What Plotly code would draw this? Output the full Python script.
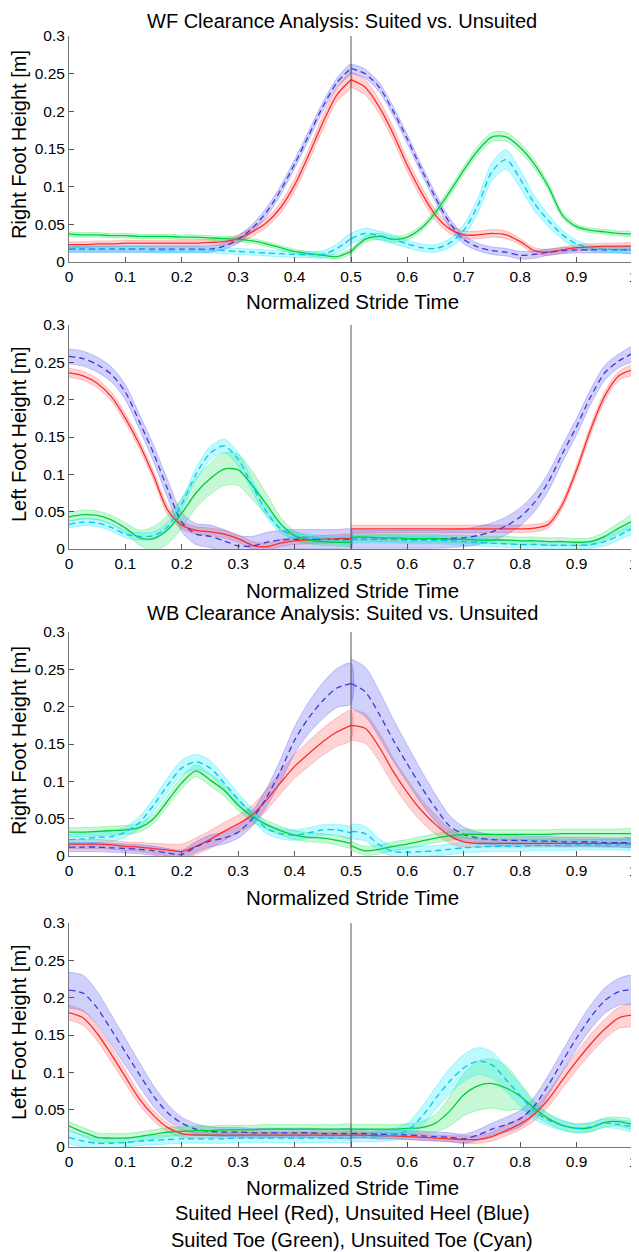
import plotly.graph_objects as go

# ---------------- data ----------------
x_left = [0.0, 0.025, 0.05, 0.075, 0.1, 0.125, 0.15, 0.175, 0.2, 0.225, 0.25,
          0.275, 0.3, 0.325, 0.35, 0.375, 0.4, 0.425, 0.45, 0.475, 0.5]
x_right = [0.5, 0.525, 0.55, 0.575, 0.6, 0.625, 0.65, 0.675, 0.7, 0.725, 0.75,
           0.775, 0.8, 0.825, 0.85, 0.875, 0.9, 0.925, 0.95, 0.975, 1.0]

x_ticks = [0, 0.1, 0.2, 0.3, 0.4, 0.5, 0.6, 0.7, 0.8, 0.9, 1]
x_ticktext = ["0", "0.1", "0.2", "0.3", "0.4", "0.5", "0.6", "0.7", "0.8", "0.9", "1"]
y_ticks = [0, 0.05, 0.1, 0.15, 0.2, 0.25, 0.3]
y_ticktext = ["0", "0.05", "0.1", "0.15", "0.2", "0.25", "0.3"]

# Each series: 21 values on x_left followed by 21 values on x_right
# Panel 1: WF right foot
wf_right_red = [0.023, 0.023, 0.024, 0.024, 0.025, 0.025, 0.025, 0.025, 0.025, 0.025, 0.026, 0.027, 0.031, 0.04, 0.052, 0.072, 0.102, 0.142, 0.185, 0.222, 0.242,
                0.242, 0.232, 0.206, 0.17, 0.128, 0.092, 0.062, 0.044, 0.036, 0.036, 0.038, 0.036, 0.027, 0.015, 0.013, 0.016, 0.019, 0.02, 0.021, 0.021, 0.021]
wf_right_red_hw = [0.004, 0.004, 0.004, 0.004, 0.004, 0.004, 0.004, 0.004, 0.004, 0.004, 0.004, 0.005, 0.005, 0.006, 0.006, 0.007, 0.008, 0.008, 0.009, 0.009, 0.01,
                   0.01, 0.01, 0.009, 0.009, 0.008, 0.008, 0.007, 0.006, 0.005, 0.005, 0.005, 0.005, 0.004, 0.004, 0.004, 0.004, 0.004, 0.004, 0.004, 0.004, 0.004]
wf_right_blue = [0.017, 0.017, 0.017, 0.017, 0.017, 0.017, 0.017, 0.017, 0.017, 0.017, 0.017, 0.021, 0.03, 0.045, 0.066, 0.095, 0.13, 0.168, 0.206, 0.238, 0.257,
                 0.257, 0.25, 0.232, 0.2, 0.163, 0.123, 0.085, 0.052, 0.03, 0.02, 0.015, 0.013, 0.009, 0.01, 0.013, 0.015, 0.016, 0.016, 0.016, 0.016, 0.016]
wf_right_blue_hw = [0.004, 0.004, 0.004, 0.004, 0.004, 0.004, 0.004, 0.004, 0.004, 0.004, 0.004, 0.004, 0.005, 0.005, 0.006, 0.006, 0.006, 0.006, 0.006, 0.006, 0.006,
                    0.006, 0.006, 0.006, 0.006, 0.006, 0.006, 0.006, 0.006, 0.006, 0.005, 0.005, 0.005, 0.005, 0.005, 0.004, 0.004, 0.004, 0.004, 0.004, 0.004, 0.004]
wf_right_green = [0.037, 0.036, 0.036, 0.035, 0.035, 0.034, 0.034, 0.034, 0.033, 0.033, 0.032, 0.031, 0.03, 0.028, 0.024, 0.019, 0.014, 0.011, 0.009, 0.007, 0.014,
                  0.014, 0.03, 0.034, 0.03, 0.033, 0.045, 0.066, 0.093, 0.122, 0.148, 0.166, 0.166, 0.152, 0.13, 0.1, 0.062, 0.047, 0.042, 0.04, 0.038, 0.037]
wf_right_green_hw = [0.003, 0.003, 0.003, 0.003, 0.003, 0.003, 0.003, 0.003, 0.003, 0.003, 0.003, 0.003, 0.003, 0.003, 0.003, 0.003, 0.003, 0.003, 0.003, 0.003, 0.003,
                     0.003, 0.004, 0.004, 0.004, 0.004, 0.004, 0.005, 0.005, 0.005, 0.006, 0.006, 0.006, 0.006, 0.006, 0.005, 0.004, 0.003, 0.003, 0.003, 0.003, 0.003]
wf_right_cyan = [0.017, 0.017, 0.017, 0.017, 0.017, 0.017, 0.016, 0.016, 0.016, 0.016, 0.016, 0.015, 0.014, 0.013, 0.012, 0.011, 0.01, 0.01, 0.01, 0.018, 0.031,
                 0.031, 0.038, 0.035, 0.03, 0.024, 0.019, 0.018, 0.025, 0.042, 0.075, 0.12, 0.136, 0.11, 0.078, 0.055, 0.036, 0.024, 0.019, 0.017, 0.016, 0.016]
wf_right_cyan_hw = [0.004, 0.004, 0.004, 0.004, 0.004, 0.004, 0.004, 0.004, 0.004, 0.004, 0.004, 0.004, 0.004, 0.004, 0.004, 0.004, 0.004, 0.004, 0.005, 0.006, 0.007,
                    0.007, 0.007, 0.006, 0.006, 0.005, 0.005, 0.005, 0.006, 0.008, 0.01, 0.012, 0.013, 0.012, 0.01, 0.008, 0.006, 0.005, 0.004, 0.004, 0.004, 0.004]

# Panel 2: WF left foot
wf_left_red = [0.236, 0.232, 0.222, 0.204, 0.175, 0.14, 0.098, 0.052, 0.032, 0.025, 0.023, 0.02, 0.014, 0.005, 0.003, 0.008, 0.011, 0.012, 0.013, 0.014, 0.014,
               0.027, 0.027, 0.027, 0.027, 0.027, 0.027, 0.027, 0.027, 0.027, 0.027, 0.027, 0.027, 0.027, 0.028, 0.033, 0.06, 0.106, 0.16, 0.205, 0.232, 0.24]
wf_left_red_hw = [0.006, 0.006, 0.006, 0.006, 0.006, 0.006, 0.006, 0.006, 0.005, 0.005, 0.005, 0.005, 0.005, 0.005, 0.005, 0.005, 0.005, 0.005, 0.005, 0.005, 0.005,
                  0.005, 0.005, 0.005, 0.005, 0.005, 0.005, 0.005, 0.005, 0.005, 0.005, 0.005, 0.005, 0.005, 0.005, 0.005, 0.005, 0.006, 0.006, 0.006, 0.006, 0.006]
wf_left_blue = [0.258, 0.255, 0.247, 0.234, 0.21, 0.17, 0.128, 0.08, 0.036, 0.02, 0.017, 0.011, 0.004, 0.004, 0.009, 0.012, 0.013, 0.013, 0.013, 0.013, 0.013,
                0.013, 0.013, 0.013, 0.013, 0.013, 0.013, 0.013, 0.014, 0.015, 0.018, 0.023, 0.031, 0.043, 0.062, 0.09, 0.128, 0.164, 0.204, 0.236, 0.252, 0.262]
wf_left_blue_hw = [0.01, 0.01, 0.01, 0.01, 0.01, 0.01, 0.011, 0.012, 0.013, 0.014, 0.015, 0.015, 0.014, 0.013, 0.013, 0.013, 0.013, 0.013, 0.013, 0.013, 0.013,
                   0.012, 0.012, 0.012, 0.012, 0.012, 0.012, 0.012, 0.012, 0.012, 0.012, 0.012, 0.012, 0.012, 0.012, 0.012, 0.011, 0.011, 0.01, 0.01, 0.009, 0.009]
wf_left_green = [0.043, 0.046, 0.045, 0.039, 0.028, 0.015, 0.014, 0.026, 0.048, 0.075, 0.094, 0.107, 0.106, 0.085, 0.06, 0.034, 0.018, 0.012, 0.01, 0.009, 0.009,
                 0.016, 0.016, 0.015, 0.015, 0.014, 0.014, 0.014, 0.013, 0.013, 0.012, 0.012, 0.012, 0.011, 0.011, 0.01, 0.01, 0.009, 0.01, 0.017, 0.028, 0.038]
wf_left_green_hw = [0.006, 0.006, 0.006, 0.006, 0.007, 0.01, 0.016, 0.019, 0.02, 0.02, 0.021, 0.022, 0.021, 0.019, 0.014, 0.009, 0.006, 0.005, 0.005, 0.005, 0.005,
                    0.005, 0.005, 0.005, 0.005, 0.005, 0.005, 0.005, 0.005, 0.005, 0.005, 0.005, 0.005, 0.005, 0.005, 0.005, 0.005, 0.005, 0.005, 0.006, 0.007, 0.008]
wf_left_cyan = [0.033, 0.036, 0.035, 0.029, 0.02, 0.017, 0.018, 0.03, 0.06, 0.1, 0.128, 0.138, 0.12, 0.085, 0.05, 0.027, 0.018, 0.015, 0.013, 0.012, 0.012,
                0.013, 0.013, 0.013, 0.013, 0.012, 0.012, 0.012, 0.011, 0.01, 0.009, 0.008, 0.007, 0.006, 0.006, 0.005, 0.005, 0.005, 0.006, 0.01, 0.018, 0.028]
wf_left_cyan_hw = [0.005, 0.005, 0.005, 0.005, 0.005, 0.005, 0.005, 0.006, 0.007, 0.008, 0.009, 0.009, 0.009, 0.008, 0.007, 0.006, 0.005, 0.005, 0.005, 0.005, 0.005,
                   0.005, 0.005, 0.005, 0.005, 0.005, 0.005, 0.005, 0.005, 0.005, 0.005, 0.005, 0.005, 0.005, 0.005, 0.005, 0.005, 0.005, 0.005, 0.006, 0.006, 0.006]

# Panel 3: WB right foot
wb_right_red = [0.016, 0.016, 0.016, 0.015, 0.013, 0.012, 0.01, 0.008, 0.006, 0.013, 0.022, 0.033, 0.043, 0.055, 0.075, 0.098, 0.12, 0.137, 0.153, 0.166, 0.175,
                0.175, 0.171, 0.146, 0.113, 0.085, 0.061, 0.042, 0.027, 0.019, 0.017, 0.017, 0.017, 0.017, 0.017, 0.017, 0.017, 0.017, 0.017, 0.017, 0.017, 0.017]
wb_right_red_hw = [0.006, 0.006, 0.006, 0.006, 0.006, 0.006, 0.007, 0.008, 0.01, 0.011, 0.012, 0.012, 0.012, 0.013, 0.014, 0.015, 0.016, 0.017, 0.018, 0.019, 0.02,
                   0.02, 0.02, 0.019, 0.018, 0.017, 0.015, 0.013, 0.01, 0.007, 0.005, 0.005, 0.005, 0.005, 0.005, 0.005, 0.005, 0.005, 0.005, 0.005, 0.005, 0.005]
wb_right_blue = [0.012, 0.012, 0.012, 0.011, 0.01, 0.009, 0.007, 0.004, 0.002, 0.012, 0.02, 0.024, 0.032, 0.05, 0.078, 0.114, 0.155, 0.185, 0.208, 0.225, 0.231,
                 0.231, 0.22, 0.19, 0.155, 0.123, 0.092, 0.064, 0.04, 0.029, 0.024, 0.022, 0.021, 0.021, 0.02, 0.02, 0.019, 0.019, 0.019, 0.018, 0.018, 0.018]
wb_right_blue_hw = [0.006, 0.006, 0.006, 0.006, 0.006, 0.006, 0.006, 0.006, 0.006, 0.007, 0.008, 0.008, 0.008, 0.01, 0.012, 0.015, 0.018, 0.021, 0.024, 0.026, 0.027,
                    0.033, 0.033, 0.031, 0.028, 0.025, 0.022, 0.018, 0.014, 0.01, 0.008, 0.007, 0.007, 0.006, 0.006, 0.006, 0.006, 0.006, 0.006, 0.006, 0.006, 0.006]
wb_right_green = [0.032, 0.032, 0.033, 0.034, 0.035, 0.038, 0.05, 0.074, 0.098, 0.114, 0.102, 0.088, 0.068, 0.053, 0.042, 0.034, 0.028, 0.025, 0.024, 0.021, 0.017,
                  0.014, 0.007, 0.009, 0.013, 0.016, 0.02, 0.024, 0.027, 0.029, 0.029, 0.029, 0.029, 0.029, 0.029, 0.029, 0.03, 0.03, 0.03, 0.03, 0.03, 0.03]
wb_right_green_hw = [0.006, 0.006, 0.006, 0.006, 0.006, 0.006, 0.006, 0.007, 0.008, 0.008, 0.008, 0.008, 0.007, 0.007, 0.006, 0.006, 0.006, 0.006, 0.006, 0.006, 0.006,
                     0.006, 0.006, 0.006, 0.006, 0.006, 0.006, 0.006, 0.006, 0.006, 0.006, 0.006, 0.006, 0.006, 0.006, 0.006, 0.006, 0.006, 0.006, 0.006, 0.006, 0.006]
wb_right_cyan = [0.022, 0.023, 0.025, 0.026, 0.032, 0.045, 0.068, 0.095, 0.118, 0.126, 0.118, 0.098, 0.076, 0.056, 0.037, 0.03, 0.028, 0.031, 0.035, 0.035, 0.031,
                 0.033, 0.03, 0.015, 0.006, 0.005, 0.006, 0.007, 0.009, 0.011, 0.012, 0.013, 0.013, 0.013, 0.014, 0.014, 0.014, 0.015, 0.015, 0.015, 0.015, 0.015]
wb_right_cyan_hw = [0.007, 0.007, 0.007, 0.007, 0.007, 0.008, 0.009, 0.01, 0.01, 0.01, 0.01, 0.009, 0.008, 0.008, 0.007, 0.007, 0.007, 0.007, 0.007, 0.007, 0.008,
                    0.01, 0.01, 0.008, 0.007, 0.007, 0.007, 0.007, 0.007, 0.007, 0.007, 0.007, 0.007, 0.007, 0.007, 0.007, 0.007, 0.007, 0.007, 0.007, 0.007, 0.007]

# Panel 4: WB left foot
wb_left_red = [0.18, 0.173, 0.152, 0.124, 0.094, 0.064, 0.042, 0.026, 0.018, 0.016, 0.016, 0.016, 0.016, 0.016, 0.016, 0.016, 0.016, 0.016, 0.016, 0.016, 0.016,
               0.016, 0.016, 0.015, 0.015, 0.014, 0.013, 0.012, 0.011, 0.01, 0.01, 0.014, 0.022, 0.031, 0.044, 0.064, 0.09, 0.115, 0.138, 0.158, 0.173, 0.177]
wb_left_red_hw = [0.01, 0.01, 0.01, 0.01, 0.009, 0.008, 0.007, 0.006, 0.005, 0.004, 0.004, 0.004, 0.004, 0.004, 0.004, 0.004, 0.004, 0.004, 0.004, 0.004, 0.004,
                  0.004, 0.004, 0.004, 0.004, 0.004, 0.004, 0.004, 0.004, 0.005, 0.005, 0.006, 0.007, 0.008, 0.009, 0.01, 0.011, 0.012, 0.013, 0.013, 0.014, 0.014]
wb_left_blue = [0.21, 0.206, 0.186, 0.157, 0.127, 0.097, 0.068, 0.046, 0.032, 0.024, 0.021, 0.02, 0.02, 0.019, 0.019, 0.019, 0.019, 0.019, 0.018, 0.018, 0.018,
                0.018, 0.018, 0.017, 0.017, 0.016, 0.015, 0.014, 0.013, 0.011, 0.016, 0.024, 0.03, 0.038, 0.055, 0.083, 0.115, 0.146, 0.174, 0.196, 0.208, 0.211]
wb_left_blue_hw = [0.024, 0.024, 0.022, 0.02, 0.018, 0.016, 0.014, 0.011, 0.008, 0.007, 0.006, 0.006, 0.006, 0.006, 0.006, 0.006, 0.006, 0.006, 0.006, 0.006, 0.006,
                   0.006, 0.006, 0.006, 0.006, 0.006, 0.006, 0.006, 0.006, 0.006, 0.007, 0.008, 0.01, 0.011, 0.012, 0.013, 0.014, 0.015, 0.016, 0.017, 0.018, 0.018]
wb_left_green = [0.028, 0.02, 0.013, 0.012, 0.012, 0.014, 0.017, 0.02, 0.021, 0.022, 0.022, 0.023, 0.023, 0.023, 0.024, 0.024, 0.024, 0.024, 0.024, 0.024, 0.024,
                 0.024, 0.024, 0.024, 0.024, 0.025, 0.026, 0.032, 0.048, 0.07, 0.082, 0.085, 0.079, 0.068, 0.052, 0.038, 0.029, 0.025, 0.026, 0.033, 0.034, 0.03]
wb_left_green_hw = [0.006, 0.006, 0.006, 0.006, 0.006, 0.006, 0.006, 0.006, 0.006, 0.006, 0.006, 0.006, 0.006, 0.006, 0.006, 0.006, 0.006, 0.006, 0.006, 0.006, 0.006,
                    0.006, 0.006, 0.006, 0.006, 0.006, 0.008, 0.012, 0.02, 0.028, 0.033, 0.033, 0.03, 0.018, 0.01, 0.007, 0.006, 0.006, 0.006, 0.006, 0.006, 0.006]
wb_left_cyan = [0.013, 0.008, 0.005, 0.005, 0.006, 0.008, 0.009, 0.01, 0.011, 0.011, 0.011, 0.011, 0.012, 0.012, 0.012, 0.012, 0.012, 0.012, 0.012, 0.012, 0.012,
                0.013, 0.013, 0.014, 0.017, 0.022, 0.04, 0.065, 0.088, 0.106, 0.115, 0.11, 0.09, 0.069, 0.048, 0.036, 0.029, 0.025, 0.027, 0.032, 0.03, 0.027]
wb_left_cyan_hw = [0.009, 0.008, 0.007, 0.006, 0.006, 0.006, 0.006, 0.006, 0.006, 0.006, 0.006, 0.006, 0.006, 0.006, 0.006, 0.006, 0.006, 0.006, 0.006, 0.006, 0.006,
                   0.006, 0.006, 0.007, 0.008, 0.01, 0.013, 0.015, 0.017, 0.018, 0.018, 0.018, 0.016, 0.014, 0.011, 0.008, 0.007, 0.006, 0.006, 0.006, 0.006, 0.006]

panel_titles = ["WF Clearance Analysis: Suited vs. Unsuited", None,
                "WB Clearance Analysis: Suited vs. Unsuited", None]
y_titles = ["Right Foot Height [m]", "Left Foot Height [m]",
            "Right Foot Height [m]", "Left Foot Height [m]"]
x_title = "Normalized Stride Time"
legend_lines = ["Suited Heel (Red), Unsuited Heel (Blue)",
                "Suited Toe (Green), Unsuited Toe (Cyan)"]

panels = [
    [(wf_right_red, wf_right_red_hw), (wf_right_blue, wf_right_blue_hw),
     (wf_right_green, wf_right_green_hw), (wf_right_cyan, wf_right_cyan_hw)],
    [(wf_left_red, wf_left_red_hw), (wf_left_blue, wf_left_blue_hw),
     (wf_left_green, wf_left_green_hw), (wf_left_cyan, wf_left_cyan_hw)],
    [(wb_right_red, wb_right_red_hw), (wb_right_blue, wb_right_blue_hw),
     (wb_right_green, wb_right_green_hw), (wb_right_cyan, wb_right_cyan_hw)],
    [(wb_left_red, wb_left_red_hw), (wb_left_blue, wb_left_blue_hw),
     (wb_left_green, wb_left_green_hw), (wb_left_cyan, wb_left_cyan_hw)],
]

# ---------------- styles ----------------
OFF = 8                      # page body margin offset of the plot div
W, H = 639 - OFF, 1252 - OFF
FONT = "Liberation Sans, Arial, Helvetica, sans-serif"
styles = [
    dict(line="#ff2b2b", dash="solid", fill="rgba(255,70,70,0.24)", edge="rgba(255,70,70,0.35)"),
    dict(line="#3a3ad8", dash="6px,4px", fill="rgba(80,80,235,0.27)", edge="rgba(80,80,235,0.38)"),
    dict(line="#00cc3a", dash="solid", fill="rgba(0,225,70,0.22)", edge="rgba(0,225,70,0.35)"),
    dict(line="#00c8ea", dash="6px,4px", fill="rgba(0,230,255,0.26)", edge="rgba(0,230,255,0.38)"),
]

# positions in reference-image pixels
x_px = (69, 633)
panel_px = [(36, 262), (325, 549), (632, 856), (923, 1147)]
xtitle_px = [302, 590, 897, 1187]
title_px = [21, None, 613, None]
ytitle_cy = [145, 434, 741, 1032]
legend_px = [1213, 1240]


def px_x(p):
    return (p - OFF) / W


def px_y(p):
    return 1 - (p - OFF) / H


fig = go.Figure()
layout = dict(
    width=W, height=H, margin=dict(l=0, r=0, t=0, b=0, autoexpand=False),
    paper_bgcolor="white", plot_bgcolor="white", showlegend=False,
    font=dict(family=FONT, color="black", size=15),
)
annotations = []
shapes = []
xmid = px_x(352)

for i, series in enumerate(panels):
    n = i + 1
    xa = "x" if n == 1 else f"x{n}"
    ya = "y" if n == 1 else f"y{n}"
    top, bot = panel_px[i]
    layout[f"xaxis{'' if n == 1 else n}"] = dict(
        domain=[px_x(x_px[0]), px_x(x_px[1])], anchor=ya, range=[0, 1],
        tickvals=x_ticks, ticktext=x_ticktext, ticks="inside", ticklen=5,
        tickcolor="#555", showline=True, linecolor="#777", linewidth=1,
        showgrid=False, zeroline=False, tickfont=dict(size=15.5),
        ticklabeloverflow="allow",
    )
    layout[f"yaxis{'' if n == 1 else n}"] = dict(
        domain=[px_y(bot), px_y(top)], anchor=xa, range=[0, 0.3],
        tickvals=y_ticks, ticktext=y_ticktext, ticks="inside", ticklen=5,
        tickcolor="#555", showline=True, linecolor="#777", linewidth=1,
        showgrid=False, zeroline=False, tickfont=dict(size=15.5),
        ticklabeloverflow="allow",
    )
    # bands first
    for (vals, hw), st in zip(series, styles):
        for xs, seg in ((x_left, slice(0, 21)), (x_right, slice(21, 42))):
            m = vals[seg]
            h = hw[seg]
            up = [a + b for a, b in zip(m, h)]
            lo = [a - b for a, b in zip(m, h)]
            fig.add_trace(go.Scatter(
                x=xs + xs[::-1], y=up + lo[::-1], xaxis=xa, yaxis=ya,
                mode="lines", fill="toself", fillcolor=st["fill"],
                line=dict(color=st["edge"], width=0.8, shape="spline", smoothing=0.8),
                hoverinfo="skip"))
    # mean lines
    for (vals, hw), st in zip(series, styles):
        for xs, seg in ((x_left, slice(0, 21)), (x_right, slice(21, 42))):
            fig.add_trace(go.Scatter(
                x=xs, y=vals[seg], xaxis=xa, yaxis=ya, mode="lines",
                line=dict(color=st["line"], width=1.3, dash=st["dash"],
                          shape="spline", smoothing=0.8)))
    shapes.append(dict(type="line", xref=xa, yref=f"{ya} domain", x0=0.5, x1=0.5,
                       y0=0, y1=1, line=dict(color="#555", width=1)))
    annotations.append(dict(text=x_title, x=xmid, y=px_y(xtitle_px[i]), xref="paper", yref="paper",
                            showarrow=False, xanchor="center", yanchor="middle",
                            font=dict(size=20.5)))
    annotations.append(dict(text=y_titles[i], x=px_x(19), y=px_y(ytitle_cy[i]), xref="paper",
                            yref="paper", showarrow=False, textangle=-90,
                            xanchor="center", yanchor="middle", font=dict(size=20)))
    if panel_titles[i]:
        annotations.append(dict(text=panel_titles[i], x=px_x(342), y=px_y(title_px[i]), xref="paper",
                                yref="paper", showarrow=False, xanchor="center",
                                yanchor="middle", font=dict(size=20)))

for txt, p in zip(legend_lines, legend_px):
    annotations.append(dict(text=txt, x=xmid, y=px_y(p), xref="paper", yref="paper",
                            showarrow=False, xanchor="center", yanchor="middle",
                            font=dict(size=20)))

layout["annotations"] = annotations
layout["shapes"] = shapes
fig.update_layout(**layout)
fig.write_html("out.html")
